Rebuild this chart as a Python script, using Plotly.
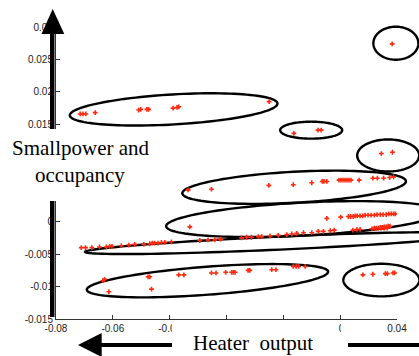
import numpy as np
import plotly.graph_objects as go

# ---------------- data ----------------
x_tick_vals = [-0.08, -0.06, -0.04, -0.02, 0, 0.02, 0.04]
x_tick_text = ["-0.08", "-0.06", "-0.04", "-0.02", "0", "0.02", "0.04"]
y_tick_vals = [-0.015, -0.01, -0.005, 0, 0.005, 0.01, 0.015, 0.02, 0.025, 0.03]
y_tick_text = ["-0.015", "-0.01", "-0.005", "0", "0.005", "0.01", "0.015", "0.02", "0.025", "0.03"]

# cluster: high small-power band (upper left)
high_band_x = [-0.0715, -0.0705, -0.0695, -0.0662, -0.0509, -0.0502, -0.0480, -0.0474,
               -0.0388, -0.0374, -0.0368, -0.0050]
high_band_y = [0.0166, 0.0166, 0.0166, 0.0168, 0.0172, 0.0173, 0.0173, 0.0173,
               0.0175, 0.0176, 0.0177, 0.0185]

# small cluster in the middle top
mid_pair_x = [0.0037, 0.0122, 0.0133]
mid_pair_y = [0.0136, 0.0141, 0.0141]

# isolated top-right point
top_right_x = [0.0383]
top_right_y = [0.0274]

# right pair
right_pair_x = [0.0345, 0.0384]
right_pair_y = [0.0105, 0.0107]

# band around 0.006
band_a_x = [-0.0335, -0.0253, -0.0051, 0.0035, 0.0100, 0.0137, 0.0143, 0.0153, 0.0196,
            0.0203, 0.0210, 0.0217, 0.0224, 0.0231, 0.0238, 0.0267, 0.0315, 0.0331,
            0.0353, 0.0374, 0.0388]
band_a_y = [0.0049, 0.0050, 0.0056, 0.0057, 0.0060, 0.0062, 0.0062, 0.0062, 0.0064,
            0.0064, 0.0064, 0.0064, 0.0064, 0.0064, 0.0064, 0.0064, 0.0067, 0.0067,
            0.0067, 0.0068, 0.0069]

# band around 0.001
band_b_x = [-0.0329, 0.0153, 0.0202, 0.0229, 0.0237, 0.0246, 0.0253, 0.0260, 0.0270,
            0.0279, 0.0288, 0.0298, 0.0309, 0.0320, 0.0330, 0.0341, 0.0351, 0.0362,
            0.0371, 0.0380, 0.0388, 0.0394]
band_b_y = [-0.0008, 0.0005, 0.0007, 0.0008, 0.0008, 0.0008, 0.0009, 0.0009, 0.0009,
            0.0009, 0.0010, 0.0010, 0.0010, 0.0010, 0.0011, 0.0011, 0.0011, 0.0011,
            0.0012, 0.0012, 0.0012, 0.0012]

# long thin band (-0.004 .. -0.0007)
band_c_x = [-0.0711, -0.0696, -0.0674, -0.0647, -0.0623, -0.0611, -0.0603, -0.0570,
            -0.0544, -0.0523, -0.0491, -0.0470, -0.0461, -0.0453, -0.0441, -0.0429,
            -0.0417, -0.0394, -0.0294, -0.0265, -0.0241, -0.0221, -0.0147, -0.0129,
            -0.0112, -0.0088, -0.0076, -0.0047, -0.0018, 0.0012, 0.0030, 0.0047,
            0.0071, 0.0100, 0.0123, 0.0141, 0.0165, 0.0179, 0.0245, 0.0259, 0.0270,
            0.0312, 0.0320, 0.0327, 0.0334, 0.0341, 0.0348, 0.0355, 0.0362, 0.0369,
            0.0375, 0.0344, 0.0355, 0.0366]
band_c_y = [-0.0040, -0.0040, -0.0040, -0.0039, -0.0039, -0.0038, -0.0038, -0.0037,
            -0.0036, -0.0035, -0.0035, -0.0034, -0.0033, -0.0033, -0.0033, -0.0032,
            -0.0032, -0.0031, -0.0029, -0.0028, -0.0028, -0.0027, -0.0025, -0.0024,
            -0.0024, -0.0023, -0.0023, -0.0022, -0.0021, -0.0020, -0.0019, -0.0018,
            -0.0017, -0.0017, -0.0015, -0.0015, -0.0014, -0.0013, -0.0013, -0.0012,
            -0.0012, -0.0011, -0.0010, -0.0010, -0.0010, -0.0009, -0.0009, -0.0008,
            -0.0008, -0.0007, -0.0007, -0.0010, -0.0010, -0.0010]

# lower band (around -0.008)
band_d_x = [-0.0635, -0.0629, -0.0614, -0.0476, -0.0470, -0.0464, -0.0368, -0.0350,
            -0.0253, -0.0237, -0.0203, -0.0182, -0.0176, -0.0170, -0.0124, -0.0118,
            -0.0041, -0.0026, 0.0035, 0.0045, 0.0054, 0.0077]
band_d_y = [-0.0091, -0.0089, -0.0108, -0.0085, -0.0085, -0.0104, -0.0082, -0.0082,
            -0.0079, -0.0079, -0.0078, -0.0078, -0.0078, -0.0078, -0.0075, -0.0075,
            -0.0074, -0.0074, -0.0069, -0.0069, -0.0069, -0.0069]

# lower-right cluster
low_right_x = [0.0280, 0.0315, 0.0359, 0.0366, 0.0386, 0.0392]
low_right_y = [-0.0082, -0.0081, -0.0080, -0.0080, -0.0079, -0.0079]

series = [
    (high_band_x, high_band_y), (mid_pair_x, mid_pair_y), (top_right_x, top_right_y),
    (right_pair_x, right_pair_y), (band_a_x, band_a_y), (band_b_x, band_b_y),
    (band_c_x, band_c_y), (band_d_x, band_d_y), (low_right_x, low_right_y),
]

# ---------------- layout geometry ----------------
W, H = 419, 356
M_L, M_R, M_T, M_B = 56, 22, 27, 37
PW, PH = W - M_L - M_R, H - M_T - M_B
X0, X1 = -0.08, 0.04
Y0, Y1 = -0.015, 0.03


def d2p(x, y):
    return (x - X0) / (X1 - X0), (y - Y0) / (Y1 - Y0)


def px2p(px, py):
    return (px - M_L) / PW, (H - M_B - py) / PH


def ellipse_path(cx, cy, a, b, ang):
    x0, y0 = d2p(cx, cy)
    t = np.linspace(0, 2 * np.pi, 121)
    th = np.radians(ang)
    dx = a * np.cos(t) * np.cos(th) - b * np.sin(t) * np.sin(th)
    dy = a * np.cos(t) * np.sin(th) + b * np.sin(t) * np.cos(th)
    xs = x0 + dx / PW
    ys = y0 + dy / PH
    return "M " + " L ".join(f"{x:.5f},{y:.5f}" for x, y in zip(xs, ys)) + " Z"


def poly_path(pts):
    pp = [px2p(px, py) for px, py in pts]
    return "M " + " L ".join(f"{x:.5f},{y:.5f}" for x, y in pp) + " Z"


# ellipses: centre (data units), semi-axes (px), tilt (deg)
ellipses = [
    (0.0396, 0.0275, 22.5, 16.5, 0),
    (0.0369, 0.0102, 31, 16, 0),
    (0.0098, 0.0141, 31, 8.5, 0),
    (-0.0386, 0.0173, 104, 15, 3.3),
    (0.0038, 0.0053, 112, 15.5, 3.1),
    (0.0069, 0.0004, 137, 16.5, 3.0),
    (-0.0012, -0.0033, 195, 6.5, 2.6),
    (-0.0267, -0.0091, 121, 14, 4.3),
    (0.0345, -0.0090, 38, 16.3, 0),
]

fig = go.Figure()
for xs, ys in series:
    fig.add_trace(go.Scatter(
        x=xs, y=ys, mode="markers",
        marker=dict(symbol="cross", size=4, color="#ff2a10", line=dict(width=0)),
        hoverinfo="skip"))

shapes = []
for cx, cy, a, b, ang in ellipses:
    shapes.append(dict(type="path", xref="paper", yref="paper", layer="below",
                       path=ellipse_path(cx, cy, a, b, ang),
                       line=dict(color="black", width=2.4)))

BLK = dict(color="black", width=0)
# vertical arrow (shaft + head)
shapes.append(dict(type="path", xref="paper", yref="paper", layer="above",
                   path=poly_path([(50, 33), (54.5, 33), (54.5, 317), (50, 317)]),
                   fillcolor="black", line=BLK))
shapes.append(dict(type="path", xref="paper", yref="paper", layer="above",
                   path=poly_path([(41.5, 34), (52.7, 9), (64.3, 34)]),
                   fillcolor="black", line=BLK))
# horizontal arrow (head + shaft pieces)
shapes.append(dict(type="path", xref="paper", yref="paper", layer="above",
                   path=poly_path([(101.7, 333), (78, 345), (101.7, 357)]),
                   fillcolor="black", line=BLK))
shapes.append(dict(type="path", xref="paper", yref="paper", layer="above",
                   path=poly_path([(101, 343), (172, 343), (172, 347), (101, 347)]),
                   fillcolor="black", line=BLK))
shapes.append(dict(type="path", xref="paper", yref="paper", layer="above",
                   path=poly_path([(348, 343), (419, 343), (419, 347), (348, 347)]),
                   fillcolor="black", line=BLK))
# white label boxes
WHT = dict(color="white", width=0)
shapes.append(dict(type="path", xref="paper", yref="paper", layer="above",
                   path=poly_path([(0, 129), (158, 129), (158, 201), (0, 201)]),
                   fillcolor="white", line=WHT))
shapes.append(dict(type="path", xref="paper", yref="paper", layer="above",
                   path=poly_path([(172, 321), (338.5, 321), (338.5, 341), (172, 341)]),
                   fillcolor="white", line=WHT))
shapes.append(dict(type="path", xref="paper", yref="paper", layer="above",
                   path=poly_path([(341, 321), (354, 321), (354, 340), (341, 340)]),
                   fillcolor="white", line=WHT))

SERIF = "Liberation Serif, Times New Roman, serif"
ann = []
for txt, cxp, cyp in [("Smallpower and", 80.5, 148), ("occupancy", 80, 175),
                      ("Heater\u00a0\u00a0output", 252.5, 343)]:
    ax, ay = px2p(cxp, cyp)
    ann.append(dict(text=txt, x=ax, y=ay, xref="paper", yref="paper",
                    xanchor="center", yanchor="middle", showarrow=False,
                    font=dict(family=SERIF, size=21, color="black")))

axis_common = dict(showgrid=False, zeroline=False, showline=True, linecolor="#333",
                   linewidth=1, ticks="inside", ticklen=4, tickcolor="#333",
                   tickfont=dict(family="Liberation Sans, Arial, sans-serif", size=10,
                                 color="#222"))

fig.update_layout(
    width=W, height=H,
    margin=dict(l=M_L, r=M_R, t=M_T, b=M_B, pad=0, autoexpand=False),
    paper_bgcolor="white", plot_bgcolor="white", showlegend=False,
    xaxis=dict(range=[X0, X1], tickvals=x_tick_vals, ticktext=x_tick_text, **axis_common),
    yaxis=dict(range=[Y0, Y1], tickvals=y_tick_vals, ticktext=y_tick_text, **axis_common),
    shapes=shapes, annotations=ann,
)

fig.write_html("out.html", config={"displayModeBar": False},
               post_script="document.body.style.margin='0px';")
